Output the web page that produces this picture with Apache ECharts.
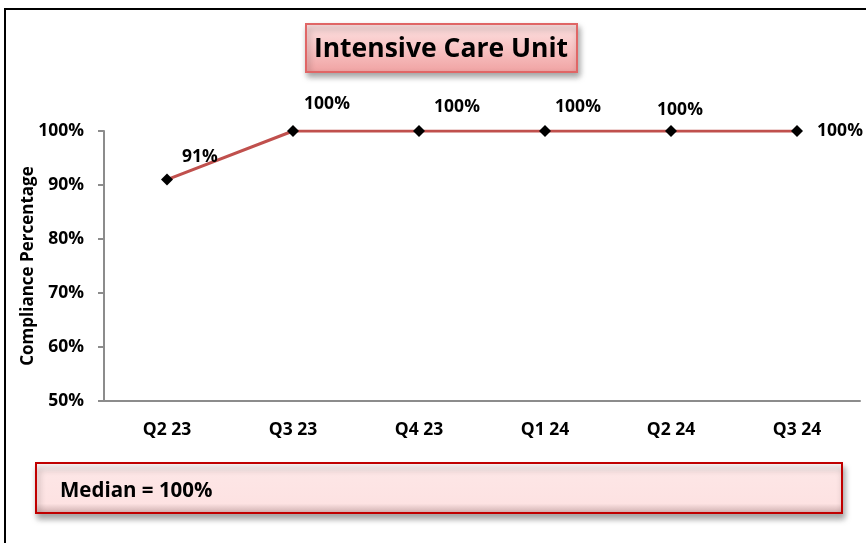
<!DOCTYPE html>
<html lang="en">

<head>
  <meta charset="UTF-8">
  <script type="text/javascript" src="https://cdn.jsdelivr.net/npm/echarts@6/dist/echarts.min.js"></script>
  <title>Intensive Care Unit</title>
  <style>
    html, body {
      margin: 0;
      padding: 0;
      background: #fff;
    }

    #chart {
      width: 866px;
      height: 543px;
    }
  </style>
</head>

<body>
  <div id="chart"></div>
  <script>
    // 数据
    const quarters = ['Q2 23', 'Q3 23', 'Q4 23', 'Q1 24', 'Q2 24', 'Q3 24'];
    const compliance = [91, 100, 100, 100, 100, 100];
    const yTicks = [50, 60, 70, 80, 90, 100];
    // 标签偏移（相对数据点）
    const labelOffsets = [[33, -23], [34, -27], [38, -24], [33, -24], [9, -21], [43, 0]];

    const sorted = compliance.slice().sort((a, b) => a - b);
    const mid = Math.floor(sorted.length / 2);
    const median = sorted.length % 2 ? sorted[mid] : (sorted[mid - 1] + sorted[mid]) / 2;

    const font = '"Open Sans", Lato, sans-serif';
    const chart = echarts.init(document.getElementById('chart'));

    chart.setOption({
      animation: false,
      grid: { left: 104, right: 6, top: 131, bottom: 142 },
      xAxis: {
        type: 'category',
        data: quarters,
        boundaryGap: true,
        axisLine: { lineStyle: { color: '#8c8c8c', width: 2 } },
        axisTick: { show: false },
        axisLabel: { color: '#000', fontWeight: 'bold', fontSize: 17.5, fontFamily: font, margin: 20 }
      },
      yAxis: {
        type: 'value',
        min: yTicks[0],
        max: yTicks[yTicks.length - 1],
        interval: 10,
        axisLine: { show: true, lineStyle: { color: '#8c8c8c', width: 2 } },
        axisTick: { show: true, inside: false, length: 6, lineStyle: { color: '#8c8c8c', width: 2 } },
        splitLine: { show: false },
        axisLabel: { color: '#000', fontWeight: 'bold', fontSize: 17.5, fontFamily: font, margin: 20, formatter: '{value}%' }
      },
      series: [{
        type: 'line',
        data: compliance.map((v, i) => ({
          value: v,
          label: { offset: labelOffsets[i] }
        })),
        symbol: 'diamond',
        symbolSize: 12,
        itemStyle: { color: '#000' },
        lineStyle: { color: '#c0504d', width: 3 },
        label: {
          show: true,
          position: 'inside',
          formatter: '{c}%',
          color: '#000',
          fontWeight: 'bold',
          fontSize: 17.5,
          fontFamily: font
        },
        z: 3
      }],
      graphic: [
        // 外框
        {
          type: 'rect',
          shape: { x: 5, y: 9, width: 900, height: 600 },
          style: { fill: 'none', stroke: '#000', lineWidth: 2 },
          silent: true
        },
        // y轴名称
        {
          type: 'text',
          x: 28,
          y: 266,
          rotation: Math.PI / 2,
          style: {
            text: 'Compliance Percentage',
            font: 'bold 17px ' + font,
            fill: '#000',
            align: 'center',
            verticalAlign: 'middle'
          }
        },
        // 标题框
        {
          type: 'rect',
          shape: { x: 306, y: 24, width: 271, height: 48 },
          style: {
            fill: new echarts.graphic.LinearGradient(0, 0, 0, 1, [
              { offset: 0, color: '#fde2e2' },
              { offset: 0.5, color: '#f8c4c4' },
              { offset: 1, color: '#f0a2a2' }
            ]),
            stroke: '#e06666',
            lineWidth: 2,
            shadowBlur: 6,
            shadowOffsetX: 2,
            shadowOffsetY: 4,
            shadowColor: 'rgba(0,0,0,0.35)'
          },
          z: 10
        },
        {
          type: 'text',
          x: 441,
          y: 49,
          style: {
            text: 'Intensive Care Unit',
            font: 'bold 26.5px ' + font,
            fill: '#000',
            align: 'center',
            verticalAlign: 'middle'
          },
          z: 11
        },
        // 中位数框
        {
          type: 'rect',
          shape: { x: 36, y: 463, width: 806, height: 50 },
          style: {
            fill: new echarts.graphic.LinearGradient(0, 0, 0, 1, [
              { offset: 0, color: '#ffffff' },
              { offset: 0.2, color: '#fde6e6' },
              { offset: 0.8, color: '#fde2e2' },
              { offset: 1, color: '#c9a9a9' }
            ]),
            stroke: '#c00000',
            lineWidth: 2,
            shadowBlur: 6,
            shadowOffsetX: 2,
            shadowOffsetY: 5,
            shadowColor: 'rgba(0,0,0,0.35)'
          },
          z: 10
        },
        {
          type: 'text',
          x: 60,
          y: 491,
          style: {
            text: 'Median = ' + median + '%',
            font: 'bold 20.5px ' + font,
            fill: '#000',
            align: 'left',
            verticalAlign: 'middle'
          },
          z: 11
        }
      ]
    });
  </script>

</body>

</html>
